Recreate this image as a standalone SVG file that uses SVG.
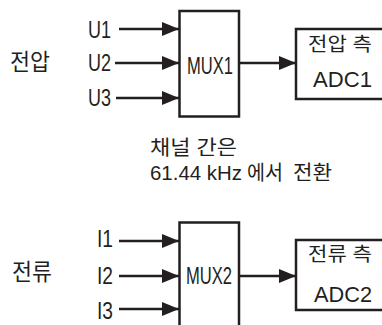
<svg xmlns="http://www.w3.org/2000/svg" width="382" height="325" viewBox="0 0 382 325">
<defs>
<marker id="ah" markerUnits="userSpaceOnUse" markerWidth="18" markerHeight="16" refX="17" refY="8" orient="auto">
<path d="M0,1 L17,8 L0,15 Z" fill="#231f20"/>
</marker>
<style>
.box{fill:#fff;stroke:#231f20;stroke-width:2.5}
.ln{fill:none;stroke:#231f20;stroke-width:2.5;marker-end:url(#ah)}
.t{font-family:"Liberation Sans",Arial,sans-serif;fill:#231f20}
.k{font-family:"Liberation Sans","Noto Sans CJK KR",sans-serif;fill:#231f20}
</style>
</defs>
<rect width="382" height="325" fill="#fff"/>
<g id="connectors">
<path class="ln" d="M119,29 H179"/>
<path class="ln" d="M115,63 H179"/>
<path class="ln" d="M116,98 H179"/>
<path class="ln" d="M239,63 H296"/>
<path class="ln" d="M119,241 H179"/>
<path class="ln" d="M119,276 H179"/>
<path class="ln" d="M119,309 H179"/>
<path class="ln" d="M239,276 H296"/>
</g>
<g id="label-voltage"><text class="k" x="10" y="70" font-size="23" textLength="40" lengthAdjust="spacingAndGlyphs">전압</text></g>
<g id="label-current"><text class="k" x="12" y="280" font-size="23" textLength="40" lengthAdjust="spacingAndGlyphs">전류</text></g>
<g id="in-U1"><text class="t" x="88" y="38" font-size="23" textLength="23" lengthAdjust="spacingAndGlyphs">U1</text></g>
<g id="in-U2"><text class="t" x="88" y="71" font-size="23" textLength="23" lengthAdjust="spacingAndGlyphs">U2</text></g>
<g id="in-U3"><text class="t" x="88" y="106" font-size="23" textLength="23" lengthAdjust="spacingAndGlyphs">U3</text></g>
<g id="in-I1"><text class="t" x="97" y="247" font-size="23" textLength="16" lengthAdjust="spacingAndGlyphs">I1</text></g>
<g id="in-I2"><text class="t" x="97" y="284" font-size="23" textLength="16" lengthAdjust="spacingAndGlyphs">I2</text></g>
<g id="in-I3"><text class="t" x="97" y="319" font-size="23" textLength="16" lengthAdjust="spacingAndGlyphs">I3</text></g>
<g id="mux1">
<rect class="box" x="179.5" y="11" width="59.5" height="105.5"/>
<text class="t" x="187" y="74" font-size="24" textLength="46" lengthAdjust="spacingAndGlyphs">MUX1</text>
</g>
<g id="adc1">
<rect class="box" x="296" y="29" width="100" height="70"/>
<text class="k" x="308" y="51" font-size="19" textLength="64" lengthAdjust="spacingAndGlyphs">전압 측</text>
<text class="t" x="313" y="87" font-size="22" textLength="59" lengthAdjust="spacingAndGlyphs">ADC1</text>
</g>
<g id="note">
<text class="k" x="150" y="155" font-size="20" textLength="87" lengthAdjust="spacingAndGlyphs">채널 간은</text>
<text class="k" y="180" font-size="20"><tspan x="150" textLength="92" lengthAdjust="spacingAndGlyphs">61.44 kHz</tspan><tspan x="247" textLength="36" lengthAdjust="spacingAndGlyphs">에서</tspan><tspan x="293" textLength="39" lengthAdjust="spacingAndGlyphs">전환</tspan></text>
</g>
<g id="mux2">
<rect class="box" x="179.5" y="222.5" width="59.5" height="110"/>
<text class="t" x="186" y="284" font-size="24" textLength="46" lengthAdjust="spacingAndGlyphs">MUX2</text>
</g>
<g id="adc2">
<rect class="box" x="296" y="240" width="100" height="70"/>
<text class="k" x="308" y="261" font-size="19" textLength="64" lengthAdjust="spacingAndGlyphs">전류 측</text>
<text class="t" x="314" y="302" font-size="22" textLength="58" lengthAdjust="spacingAndGlyphs">ADC2</text>
</g>
</svg>
